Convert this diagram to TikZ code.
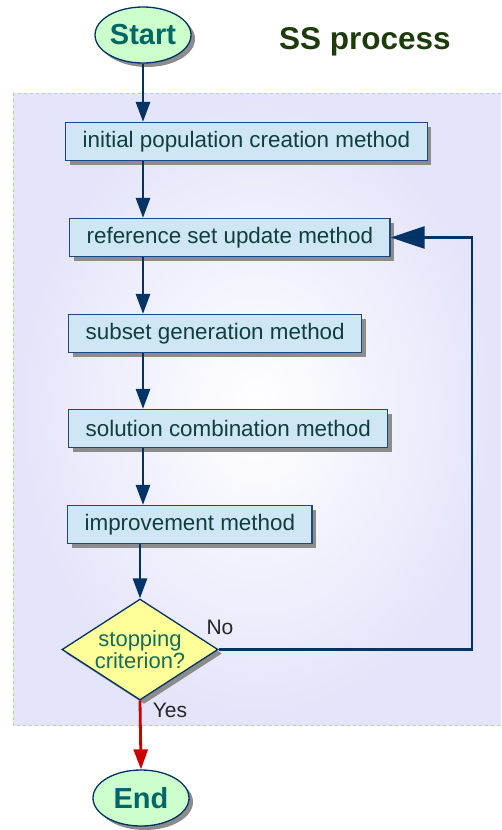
\documentclass[tikz,border=0pt]{standalone}
\usepackage{fontspec}
\setmainfont{Liberation Sans}
\usetikzlibrary{shapes.geometric,arrows.meta,shadows}

\definecolor{flowblue}{RGB}{0,51,102}
\definecolor{boxline}{RGB}{31,73,125}
\definecolor{boxfill}{RGB}{207,230,244}
\definecolor{boxtext}{RGB}{16,62,62}
\definecolor{termfill}{RGB}{204,255,204}
\definecolor{termtext}{RGB}{0,102,102}
\definecolor{decfill}{RGB}{255,255,153}
\definecolor{dectext}{RGB}{20,110,90}
\definecolor{titlegreen}{RGB}{30,60,10}
\definecolor{yesred}{RGB}{204,0,0}
\definecolor{panelline}{RGB}{180,220,140}
\definecolor{panelfill}{RGB}{228,228,250}

\begin{document}
\begin{tikzpicture}[x=1pt,y=-1pt,
    every node/.style={font=\fontsize{22.4}{26}\selectfont},
    shade3d/.style={drop shadow={shadow xshift=4pt, shadow yshift=-4pt, fill=black!45, opacity=1}},
    method/.style={rectangle, draw=boxline, line width=1.3pt, fill=boxfill, text=boxtext,
        minimum height=38pt, inner xsep=17pt, anchor=west, shade3d},
    terminal/.style={ellipse, draw=flowblue, line width=1.3pt, fill=termfill, text=termtext,
        minimum width=96pt, minimum height=56pt, inner sep=0pt,
        font=\fontsize{29}{34}\selectfont\bfseries, shade3d},
    decision/.style={diamond, aspect=1.545, draw=flowblue, line width=1.3pt, fill=decfill,
        text=dectext, minimum width=156pt, minimum height=101pt, inner sep=0pt, align=center,
        font=\fontsize{22}{22}\selectfont, shade3d},
    answer/.style={text=black!85, font=\fontsize{21}{24}\selectfont},
    flow/.style={draw=flowblue, line width=2.8pt, -{Triangle[length=20pt,width=14pt]}},
    loopflow/.style={draw=flowblue, line width=2.8pt, -{Triangle[length=34pt,width=22pt]}},
    yesflow/.style={draw=yesred, line width=2.8pt, -{Triangle[length=20pt,width=14pt]}}]

    \useasboundingbox (0,0) rectangle (501,830);

    % Panel behind the process
    \shade[inner color=white, outer color=panelfill] (13,93) rectangle (501,725);
    \draw[panelline, dashed, line width=1pt] (13,93) rectangle (504,725);

    % Title
    \node[text=titlegreen, font=\fontsize{31.5}{36}\selectfont\bfseries] (title) at (365,42) {SS process};

    % Start and end
    \node[terminal] (start) at (143,35) {Start};
    \node[terminal] (end) at (141,798) {End};

    % Methods
    \node[method] (init) at (65,141.5) {initial population creation method};
    \node[method] (refset) at (69,237.5) {reference set update method};
    \node[method] (subset) at (68,333.5) {subset generation method};
    \node[method] (combine) at (68,428.5) {solution combination method};
    \node[method] (improve) at (67,524.5) {improvement method};

    % Stopping test
    \node[decision] (stop) at (140,649.5) {stopping\\criterion?};
    \node[answer] (no) at (220,627) {No};
    \node[answer] (yes) at (170,710) {Yes};
    \coordinate (back) at (472,649.5);

    % Flow
    \draw[flow] (start) -- (start |- init.north);
    \draw[flow] (init.south -| start) -- (refset.north -| start);
    \draw[flow] (refset.south -| start) -- (subset.north -| start);
    \draw[flow] (subset.south -| start) -- (combine.north -| start);
    \draw[flow] (combine.south -| start) -- (improve.north -| start);
    \draw[flow] (improve.south -| stop) -- (stop.north);
    \draw[loopflow] (stop.east) -- (back) |- (refset.east);
    \draw[yesflow] (stop.south) -- (end.north);
\end{tikzpicture}
\end{document}
